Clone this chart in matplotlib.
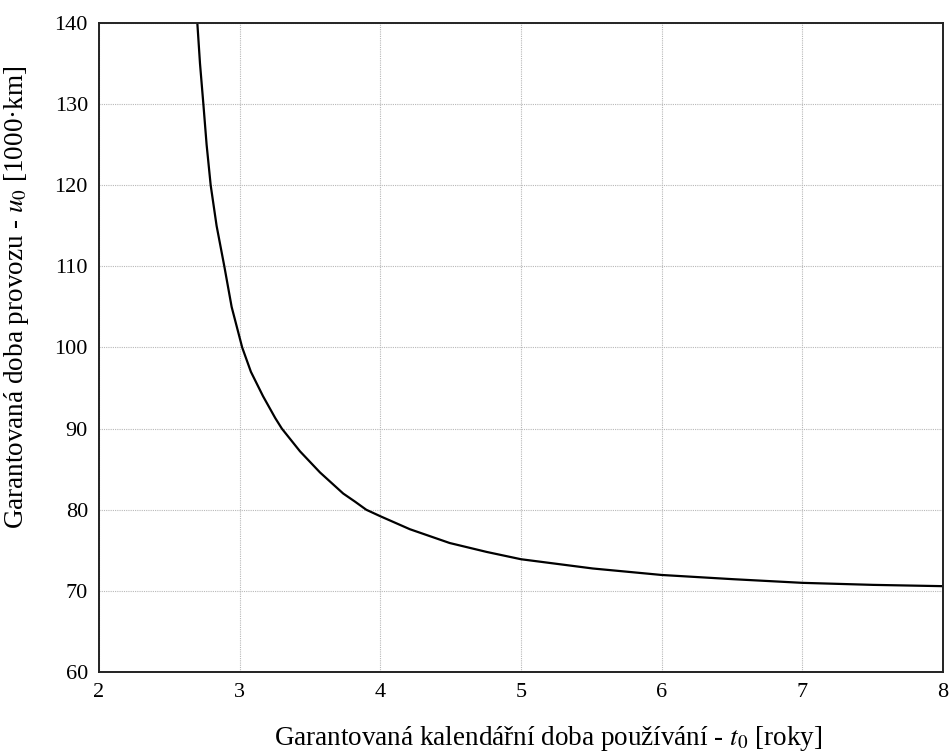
import numpy as np
import matplotlib
matplotlib.use("Agg")
import matplotlib.pyplot as plt

# values
t0 = [2.699, 2.718, 2.742, 2.765, 2.794, 2.836, 2.891, 2.943, 3.018, 3.08,
      3.166, 3.253, 3.30, 3.429, 3.571, 3.736, 3.82, 3.90, 4.0, 4.21,
      4.493, 4.756, 5.0, 5.51, 6.0, 6.508, 7.0, 7.503, 8.0]
u0 = [140.0, 135.0, 130.0, 125.0, 120.0, 115.0, 110.0, 105.0, 100.0, 97.0,
      94.0, 91.3, 90.0, 87.2, 84.6, 82.0, 81.0, 80.0, 79.2, 77.6,
      75.9, 74.8, 73.9, 72.76, 71.96, 71.44, 70.99, 70.74, 70.58]

x_ticks = [2, 3, 4, 5, 6, 7, 8]
y_ticks = [60, 70, 80, 90, 100, 110, 120, 130, 140]

plt.rcParams['font.family'] = ['Liberation Serif', 'DejaVu Serif']
plt.rcParams['mathtext.fontset'] = 'stix'

fig = plt.figure(figsize=(9.5, 7.51), dpi=100)
ax = fig.add_axes([99 / 950, 1 - 672 / 751, (943 - 99) / 950, (672 - 23) / 751])

ax.plot(t0, u0, color='black', lw=1.6, solid_joinstyle='round', solid_capstyle='round')

ax.set_xlim(2, 8)
ax.set_ylim(60, 140)
ax.set_xticks(x_ticks)
ax.set_yticks(y_ticks)
ax.tick_params(length=0, pad=8, labelsize=16)
ax.grid(True, color='#b8b8b8', linestyle=(0, (1, 1)), linewidth=0.8)

for s in ax.spines.values():
    s.set_linewidth(1.4)
    s.set_color('#222222')

ax.set_xlabel('Garantovaná kalendářní doba používání - $t_0$ [roky]', fontsize=19.5)
ax.set_ylabel('Garantovaná doba provozu - $u_0$ [1000·km]', fontsize=19.5)
ax.xaxis.set_label_coords(0.532, -0.080)
ax.yaxis.set_label_coords(-0.080, 0.578)

fig.savefig('out.png', dpi=100)
